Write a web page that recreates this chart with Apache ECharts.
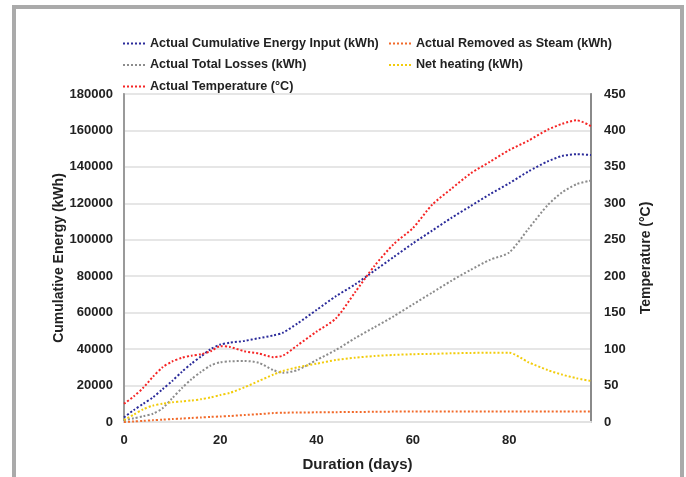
<!DOCTYPE html>
<html>
<head>
<meta charset="utf-8">
<script src="https://cdn.jsdelivr.net/npm/echarts@6/dist/echarts.min.js"></script>
<style>html,body{margin:0;padding:0;background:#fff;}#c{width:686px;height:477px;}</style>
</head>
<body>
<div id="c"></div>
<script>
const days = [0,2,4,6,8,10,12,14,16,18,20,22,25,28,31,33,36,40,44,48,52,56,60,64,68,72,76,80,84,88,91,94,97];
const energyInput = [2500,6500,10000,13500,18000,22500,27500,32000,36000,40000,42500,43500,44500,46000,47500,49000,54000,61500,69000,75500,83000,90500,98000,105000,112000,118500,125000,131000,137500,143000,146000,147000,146500];
const steam = [0,300,600,1000,1300,1600,1900,2200,2500,2800,3000,3300,3800,4300,4900,5100,5200,5300,5400,5500,5600,5700,5700,5700,5800,5800,5800,5800,5800,5800,5800,5800,5800];
const losses = [1000,2000,3200,4500,7500,13000,18500,23500,27500,31000,32800,33300,33500,32500,28500,27000,28500,34000,39500,46000,52000,58000,64500,71000,77500,83500,89000,93000,106000,119000,126000,130500,132500];
const netHeating = [1000,4000,7000,9000,10000,10800,11300,11800,12500,13500,14800,16000,19000,22500,26000,28000,30000,32000,34000,35300,36200,36800,37200,37400,37700,37900,38000,38000,32800,28500,26000,24000,22500];
const temperature = [25,35,47,62,75,83,88,91,93,97,104,103,97,94,89,91,105,124,142,178,214,244,266,298,320,341,357,373,386,401,409,414,406];

const names = ['Actual Cumulative Energy Input (kWh)','Actual Removed as Steam (kWh)','Actual Total Losses (kWh)','Net heating (kWh)','Actual Temperature (\u00b0C)'];
const colors = ['#2b2b9a','#f26a2a','#8c8c8c','#f2cc0c','#f52525'];
const values = [energyInput, steam, losses, netHeating, temperature];

const font = 'Liberation Sans, Arial, sans-serif';
const pair = (arr) => days.map((d,i) => [d, arr[i]]);

const series = values.map((v,i) => ({
  name: names[i],
  type: 'line',
  yAxisIndex: i === 4 ? 1 : 0,
  data: pair(v),
  symbol: 'none',
  smooth: 0.25,
  lineStyle: {color: colors[i], width: 2, type: 'dotted'},
  itemStyle: {color: colors[i]},
  z: i === 4 ? 3 : 2
}));

const legendText = {fontFamily: font, fontWeight: 'bold', fontSize: 12.6, color: '#222'};
const legendCommon = {orient: 'vertical', top: 37, padding: 0, itemWidth: 22, itemHeight: 12, itemGap: 8.5,
  textStyle: legendText, itemStyle: {opacity: 0}, lineStyle: {width: 2, type: 'dotted'}};

const option = {
  animation: false,
  backgroundColor: '#fff',
  graphic: [{
    type: 'rect', z: -10,
    shape: {x: 14, y: 7, width: 668, height: 490},
    style: {fill: '#fff', stroke: '#aaaaaa', lineWidth: 4}
  }],
  legend: [
    Object.assign({left: 122, data: [names[0], names[2], names[4]]}, legendCommon),
    Object.assign({left: 388, data: [names[1], names[3]]}, legendCommon)
  ],
  grid: {left: 124, right: 95, top: 94, bottom: 55, show: true, borderColor: '#9a9a9a', borderWidth: 1.5, backgroundColor: 'transparent'},
  xAxis: {
    type: 'value', min: 0, max: 97, interval: 20,
    name: 'Duration (days)', nameLocation: 'middle', nameGap: 35, nameMoveOverlap: false,
    nameTextStyle: {fontFamily: font, fontWeight: 'bold', fontSize: 15, color: '#222'},
    axisLine: {show: true, lineStyle: {color: '#e2e2e2', width: 2}},
    axisTick: {show: false},
    splitLine: {show: false},
    axisLabel: {fontFamily: font, fontWeight: 'bold', fontSize: 13, color: '#222', margin: 12, showMaxLabel: false}
  },
  yAxis: [{
    type: 'value', min: 0, max: 180000, interval: 20000,
    name: 'Cumulative Energy (kWh)', nameLocation: 'middle', nameGap: 58, nameMoveOverlap: false,
    nameTextStyle: {fontFamily: font, fontWeight: 'bold', fontSize: 14, color: '#222'},
    axisLine: {show: true, lineStyle: {color: '#9a9a9a', width: 2}},
    axisTick: {show: false},
    splitLine: {show: true, lineStyle: {color: '#e6e6e6', width: 2}},
    axisLabel: {fontFamily: font, fontWeight: 'bold', fontSize: 13, color: '#222', margin: 11, formatter: (v) => String(v)}
  }, {
    type: 'value', min: 0, max: 450, interval: 50, position: 'right',
    name: 'Temperature (\u00b0C)', nameLocation: 'middle', nameGap: 48, nameRotate: 90, nameMoveOverlap: false,
    nameTextStyle: {fontFamily: font, fontWeight: 'bold', fontSize: 14, color: '#222'},
    axisLine: {show: true, lineStyle: {color: '#8a8a8a', width: 2}},
    axisTick: {show: false},
    splitLine: {show: false},
    axisLabel: {fontFamily: font, fontWeight: 'bold', fontSize: 13, color: '#222', margin: 13, formatter: (v) => String(v)}
  }],
  series: series
};

const chart = echarts.init(document.getElementById('c'), null, {renderer: 'canvas'});
chart.setOption(option);
</script>
</body>
</html>
